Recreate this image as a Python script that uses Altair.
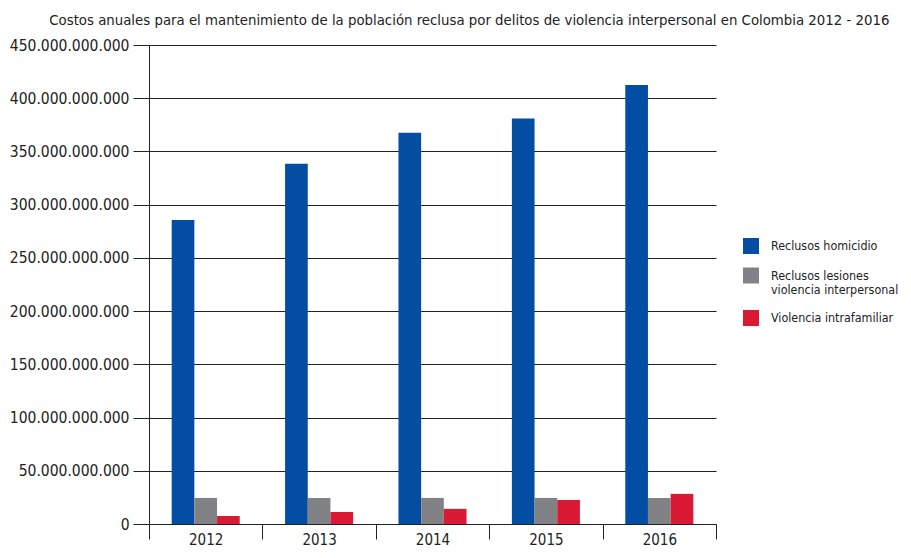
import altair as alt
import pandas as pd

years = ["2012", "2013", "2014", "2015", "2016"]
series = ["Reclusos homicidio", "Reclusos lesiones\nviolencia interpersonal", "Violencia intrafamiliar"]
homicidio = [285.5e9, 338.5e9, 367.5e9, 381.0e9, 412.5e9]
lesiones = [24.5e9, 24.5e9, 24.5e9, 24.5e9, 24.5e9]
intrafamiliar = [7.5e9, 11.3e9, 14.2e9, 22.6e9, 28.3e9]
colors = ["#034EA2", "#808285", "#DA1A35"]
y_ticks = [i * 50e9 for i in range(10)]

rows = []
for i, y in enumerate(years):
    for s, vals in zip(series, [homicidio, lesiones, intrafamiliar]):
        rows.append({"year": y, "serie": s, "valor": vals[i]})
df = pd.DataFrame(rows)

FONT = "'DejaVu Sans Condensed', Roboto, sans-serif"

chart = alt.Chart(df).mark_bar().encode(
    x=alt.X("year:N", title=None, sort=years,
            scale=alt.Scale(paddingInner=0, paddingOuter=0),
            axis=alt.Axis(labelAngle=0, tickBand="extent", tickSize=15, tickColor="#222",
                          domain=False, labelFontSize=15, labelColor="#222", labelPadding=-7,
                          labelBaseline="top", labelFont=FONT)),
    xOffset=alt.XOffset("serie:N", sort=series,
                        scale=alt.Scale(paddingInner=0, paddingOuter=1)),
    y=alt.Y("valor:Q", title=None,
            scale=alt.Scale(domain=[0, 450e9], nice=False),
            axis=alt.Axis(values=y_ticks, tickSize=16, tickColor="#222", gridColor="#222",
                          gridWidth=1.2, domainColor="#222", labelFontSize=15.5,
                          labelColor="#222", labelPadding=4, labelFont=FONT,
                          labelExpr="replace(format(datum.value, ','), /,/g, '.')")),
    color=alt.Color("serie:N", sort=series, scale=alt.Scale(domain=series, range=colors),
                    legend=alt.Legend(title=None, orient="none", legendX=594, legendY=193,
                                      symbolType="square", symbolSize=256, symbolStrokeWidth=0,
                                      labelFontSize=12.4, labelFont=FONT, labelColor="#222",
                                      labelExpr="split(datum.label, '\\n')",
                                      labelBaseline="middle", rowPadding=13.5, labelOffset=12)),
).properties(
    width=567, height=479,
    autosize=alt.AutoSizeParams(type="none"),
    padding={"left": 141, "top": 37, "right": 187, "bottom": 25},
    title=alt.TitleParams("Costos anuales para el mantenimiento de la población reclusa por delitos de violencia interpersonal en Colombia 2012 - 2016",
                          font=FONT, fontSize=14.8, fontWeight="normal", color="#222",
                          anchor="start", frame="bounds", dx=40, offset=10),
).configure_view(stroke=None).configure_axis(grid=True).configure_axisX(grid=False)

chart.save("out.html", embed_options={"renderer": "svg", "actions": False})
